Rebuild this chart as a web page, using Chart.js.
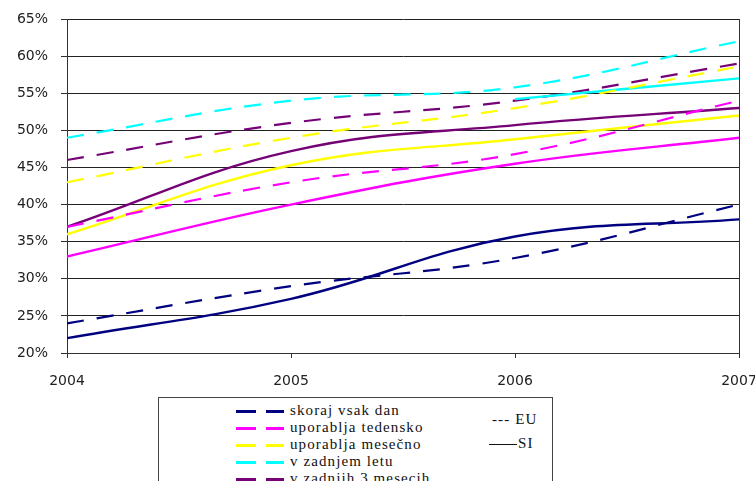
<!DOCTYPE html>
<html>
<head>
<meta charset="utf-8">
<script src="https://cdn.jsdelivr.net/npm/chart.js@4/dist/chart.umd.min.js"></script>
<style>
  html, body { margin: 0; padding: 0; background: #ffffff; overflow: hidden; }
  #wrap { position: relative; width: 755px; height: 481px; overflow: hidden; }
  #chart { position: absolute; left: 0; top: 0; }
  #legend {
    position: absolute; left: 158px; top: 397px; width: 395px; height: 110px;
    border: 1px solid #444; background: #fff; box-sizing: border-box;
    font-family: "Liberation Serif", "DejaVu Serif", serif; font-size: 15px;
    letter-spacing: 1.1px; color: #111;
  }
  .row { position: absolute; left: 0; height: 17px; width: 300px; }
  .dash { position: absolute; height: 2.5px; width: 20px; top: 7px; }
  .row .txt { position: absolute; left: 131px; top: -1px; white-space: nowrap; line-height: 17px; }
  .key { position: absolute; white-space: nowrap; line-height: 17px; }
  .siline { position: absolute; height: 1px; background: #111; }
</style>
</head>
<body>
<div id="wrap">
  <canvas id="chart" width="755" height="481"></canvas>
  <div id="legend"></div>
</div>
<script>
// Years on the horizontal axis
const years = [2004, 2005, 2006, 2007];

// Usage groups (legend order) and their colours
const groups = ["skoraj vsak dan", "uporablja tedensko", "uporablja mesečno", "v zadnjem letu", "v zadnjih 3 mesecih"];
const groupColors = ["#000080", "#ff00ff", "#ffff00", "#00ffff", "#760076"];

// Share of users (%) – Slovenia (solid lines)
const siDaily   = [22, 27.3, 35.7, 38];
const siWeekly  = [33, 40, 45.5, 49];
const siMonthly = [36, 45.3, 48.8, 52];
const siYear    = [null, null, 54.2, 57];
const si3Months = [37, 47.2, 50.7, 53];

// Share of users (%) – EU (dashed lines)
const euDaily   = [24, 29, 32.8, 40];
const euWeekly  = [37, 43, 46.8, 54];
const euMonthly = [43, 49, 53, 58.6];
const euYear    = [49, 54, 55.8, 62];
const eu3Months = [46, 51, 54, 59];

// Y axis range and tick step (percent)
const yMin = 20, yMax = 65, yStep = 5;

const siSeries = [siDaily, siWeekly, siMonthly, siYear, si3Months];
const euSeries = [euDaily, euWeekly, euMonthly, euYear, eu3Months];

function toPoints(values) {
  return years.map((x, i) => ({ x: x, y: values[i] }));
}

const datasets = [];
groups.forEach((name, i) => {
  datasets.push({
    label: name + " (EU)",
    data: toPoints(euSeries[i]),
    borderColor: groupColors[i],
    borderWidth: 2.2,
    borderDash: [17, 13],
    pointRadius: 0,
    tension: 0.4,
    fill: false
  });
  datasets.push({
    label: name + " (SI)",
    data: toPoints(siSeries[i]),
    borderColor: groupColors[i],
    borderWidth: 2.4,
    pointRadius: 0,
    tension: 0.4,
    fill: false
  });
});

new Chart(document.getElementById("chart"), {
  type: "line",
  data: { datasets: datasets },
  options: {
    responsive: false,
    animation: false,
    layout: { padding: { left: 0, right: 16, top: 19, bottom: 83 } },
    plugins: { legend: { display: false }, tooltip: { enabled: false } },
    scales: {
      x: {
        type: "linear",
        min: years[0],
        max: years[years.length - 1],
        // fixed axis band; end labels may run to the canvas edge
        afterFit: (s) => { s.height = 45; s.paddingLeft = 0; s.paddingRight = 0; },
        border: { color: "#333", width: 1 },
        grid: {
          drawOnChartArea: true,
          color: (c) => (c.tick && c.tick.value === years[years.length - 1]) ? "#333" : "rgba(0,0,0,0)",
          tickColor: "#333",
          tickLength: 5
        },
        ticks: {
          stepSize: 1,
          padding: 15,
          maxRotation: 0,
          color: "#222",
          font: { family: "DejaVu Sans", size: 14 },
          callback: (v) => String(v)
        }
      },
      y: {
        min: yMin,
        max: yMax,
        afterFit: (s) => { s.width = 67; s.paddingTop = 0; s.paddingBottom = 0; },
        border: { color: "#333", width: 1 },
        grid: { color: "#222", tickColor: "#333", tickLength: 6, lineWidth: 1 },
        ticks: {
          stepSize: yStep,
          padding: 13,
          color: "#222",
          font: { family: "DejaVu Sans", size: 14 },
          callback: (v) => v + "%"
        }
      }
    }
  }
});

// Legend box below the plot
const legend = document.getElementById("legend");
groups.forEach((name, i) => {
  const row = document.createElement("div");
  row.className = "row";
  row.style.top = (5 + i * 17) + "px";
  const d1 = document.createElement("div");
  d1.className = "dash"; d1.style.left = "77px"; d1.style.background = groupColors[i];
  const d2 = document.createElement("div");
  d2.className = "dash"; d2.style.left = "107px"; d2.style.width = "18px"; d2.style.background = groupColors[i];
  const t = document.createElement("div");
  t.className = "txt"; t.textContent = name;
  row.appendChild(d1); row.appendChild(d2); row.appendChild(t);
  legend.appendChild(row);
});
const eu = document.createElement("div");
eu.className = "key"; eu.style.left = "333px"; eu.style.top = "13px"; eu.textContent = "--- EU";
legend.appendChild(eu);
const siLine = document.createElement("div");
siLine.className = "siline"; siLine.style.left = "330px"; siLine.style.width = "28px"; siLine.style.top = "46px";
legend.appendChild(siLine);
const si = document.createElement("div");
si.className = "key"; si.style.left = "359px"; si.style.top = "37px"; si.textContent = "SI";
legend.appendChild(si);
</script>
</body>
</html>
